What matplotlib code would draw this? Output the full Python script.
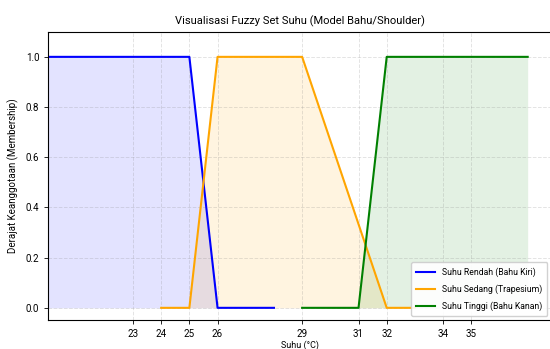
import matplotlib
matplotlib.use("Agg")
import matplotlib.pyplot as plt

plt.rcParams['font.family'] = ['Roboto', 'DejaVu Sans']

# titik-titik fungsi keanggotaan
x_rendah = [20, 25, 26, 28]
y_rendah = [1, 1, 0, 0]

x_sedang = [24, 25, 26, 29, 32, 33]
y_sedang = [0, 0, 1, 1, 0, 0]

x_tinggi = [29, 31, 32, 37]
y_tinggi = [0, 0, 1, 1]

xticks = [23, 24, 25, 26, 29, 31, 32, 34, 35]

fig = plt.figure(figsize=(5.5, 3.49), dpi=100)
ax = fig.add_axes([0.088, 0.082, 0.915, 0.827])

ax.plot(x_rendah, y_rendah, color='blue', lw=1.5, label='Suhu Rendah (Bahu Kiri)')
ax.fill_between(x_rendah, y_rendah, color='blue', alpha=0.11, lw=0)
ax.plot(x_sedang, y_sedang, color='orange', lw=1.5, label='Suhu Sedang (Trapesium)')
ax.fill_between(x_sedang, y_sedang, color='orange', alpha=0.12, lw=0)
ax.plot(x_tinggi, y_tinggi, color='green', lw=1.5, label='Suhu Tinggi (Bahu Kanan)')
ax.fill_between(x_tinggi, y_tinggi, color='green', alpha=0.11, lw=0)

ax.set_xlim(20, 37.85)
ax.set_ylim(-0.05, 1.1)
ax.set_xticks(xticks)
ax.set_yticks([0, 0.2, 0.4, 0.6, 0.8, 1.0])
ax.tick_params(labelsize=7, length=3, width=0.6)
ax.grid(True, linestyle='--', color='gray', alpha=0.22, lw=0.7)

ax.set_title("Visualisasi Fuzzy Set Suhu (Model Bahu/Shoulder)", fontsize=8, pad=5)
ax.set_xlabel("Suhu (°C)", fontsize=6.5, labelpad=1)
ax.set_ylabel("Derajat Keanggotaan (Membership)", fontsize=7, labelpad=5)
ax.legend(loc='lower right', fontsize=6.2, framealpha=0.9, borderpad=0.6,
          handlelength=2.2, labelspacing=0.85)

fig.savefig("out.png", dpi=100)
